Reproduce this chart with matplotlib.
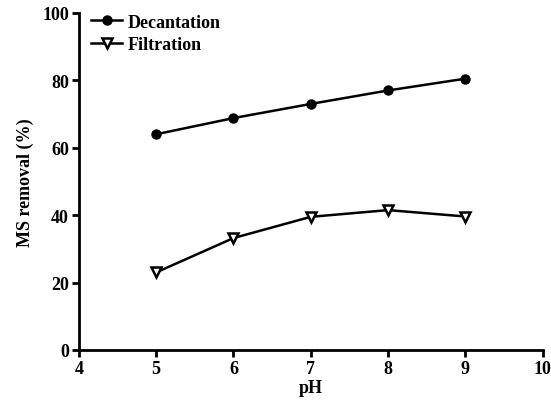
import matplotlib
matplotlib.use('Agg')
import matplotlib.pyplot as plt

plt.rcParams['font.family'] = 'Liberation Serif'
plt.rcParams['font.weight'] = 'bold'

ph = [5, 6, 7, 8, 9]
decantation = [64, 68.8, 73, 77, 80.5]
filtration = [23, 33.2, 39.5, 41.5, 39.6]

fig = plt.figure(figsize=(5.51, 4.1), dpi=100)
ax = fig.add_axes([0.143, 0.144, 0.842, 0.822])

ax.plot(ph, decantation, color='black', lw=1.8, marker='o', ms=6.5,
        label='Decantation')
ax.plot(ph, filtration, color='black', lw=1.8, marker='v', ms=6.5,
        mfc='white', mew=1.8, label='Filtration')

ax.set_xlim(4, 10)
ax.set_ylim(0, 100)
ax.set_xticks(range(4, 11))
ax.set_yticks(range(0, 101, 20))
ax.spines['top'].set_visible(False)
ax.spines['right'].set_visible(False)
for s in ['left', 'bottom']:
    ax.spines[s].set_linewidth(2)
ax.tick_params(width=2, length=5, labelsize=13, pad=2)

ax.set_xlabel('pH', fontsize=13, fontweight='bold', labelpad=2)
ax.set_ylabel('MS removal (%)', fontsize=13, fontweight='bold', labelpad=6)

ax.legend(loc='upper left', bbox_to_anchor=(0.0, 1.035), frameon=False,
          fontsize=13, handlelength=1.7, handletextpad=0.3,
          labelspacing=0.3, borderaxespad=0.3)

fig.savefig('out.png', dpi=100)
